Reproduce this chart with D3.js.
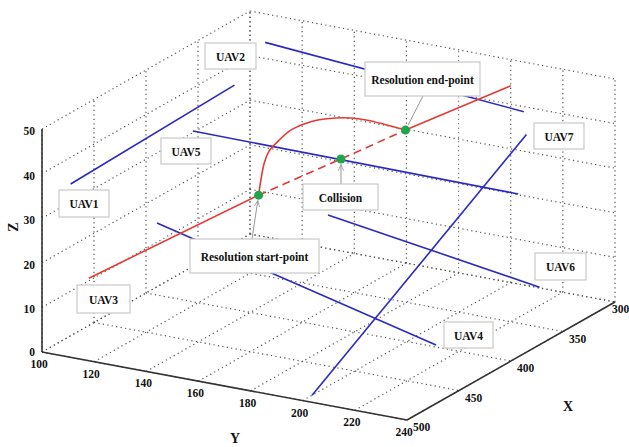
<!DOCTYPE html>
<html>
<head>
<meta charset="utf-8">
<script src="https://cdn.jsdelivr.net/npm/d3@7"></script>
<style>
  body { margin: 0; background: #fff; }
  text { font-family: "Liberation Serif", "DejaVu Serif", serif; }
</style>
</head>
<body>
<div id="chart"></div>
<script>
// axis ticks
const xTicks = [300, 350, 400, 450, 500];
const yTicks = [100, 120, 140, 160, 180, 200, 220, 240];
const zTicks = [0, 10, 20, 30, 40, 50];

// straight UAV tracks, points are [X, Y, Z]
const uavNames = ["UAV1", "UAV2", "UAV4", "UAV5", "UAV6", "UAV7"];
const uavStart = [[495, 109, 38], [308, 109, 45], [410.5, 108.4, 18], [370, 106, 33], [314, 135.5, 10], [491, 200, 0]];
const uavEnd   = [[330, 106, 38], [335, 219, 45], [443, 228.4, 8],    [373, 232, 33], [356, 233.4, 10], [335, 220, 40]];

// UAV3 planned path: start, resolution start, collision, resolution end, end
const uav3Path = [[480, 110, 15], [402, 144, 27], [370.5, 163, 33], [341, 176, 37], [305, 202, 45]];

// avoidance manoeuvre of UAV3
const resolutionCurve = [
  [402, 144, 27], [401, 144.6, 30.8], [399.6, 145.2, 34], [397.6, 146.3, 36.6],
  [394.7, 147.8, 38.1], [389.3, 150.7, 40.4], [383.1, 153.9, 41.5], [376.9, 157.2, 42],
  [369.9, 160.9, 41.9], [363.6, 164.1, 41.4], [357.4, 167.4, 40.5], [350, 171.3, 39],
  [344.6, 174.1, 37.8], [341, 176, 37]
];

const width = 629, height = 447;

// axes box in screen space (orthographic view)
const origin = [42, 352];          // Y=100, X=500, Z=0
const yVec = [365, 68];            // Y 100 -> 240
const xVec = [208, -118];          // X 500 -> 300
const zLen = 223;                  // Z 0 -> 50

const yS = d3.scaleLinear().domain([100, 240]).range([0, 1]);
const xS = d3.scaleLinear().domain([500, 300]).range([0, 1]);
const zS = d3.scaleLinear().domain([0, 50]).range([0, zLen]);

const proj = p => {
  const fy = yS(p[1]), fx = xS(p[0]);
  return [origin[0] + fy * yVec[0] + fx * xVec[0],
          origin[1] + fy * yVec[1] + fx * xVec[1] - zS(p[2])];
};

const svg = d3.select("#chart").append("svg")
    .attr("width", width)
    .attr("height", height);

svg.append("defs").append("marker")
    .attr("id", "arr")
    .attr("viewBox", "0 0 10 10")
    .attr("refX", 9).attr("refY", 5)
    .attr("markerWidth", 7).attr("markerHeight", 7)
    .attr("orient", "auto")
  .append("path")
    .attr("d", "M0,1 L9,5 L0,9")
    .attr("fill", "none")
    .attr("stroke", "#999")
    .attr("stroke-width", 1.2);

const line3 = d3.line().x(p => proj(p)[0]).y(p => proj(p)[1]);

// dotted grid on the three back planes
const grid = svg.append("g")
    .attr("fill", "none")
    .attr("stroke", "#555")
    .attr("stroke-width", 1.2)
    .attr("stroke-dasharray", "1.2,3.3");

const gridSegs = [];
yTicks.forEach(y => {
  gridSegs.push([[500, y, 0], [300, y, 0]]);   // floor
  gridSegs.push([[300, y, 0], [300, y, 50]]);  // back wall
});
xTicks.forEach(x => {
  gridSegs.push([[x, 100, 0], [x, 240, 0]]);   // floor
  gridSegs.push([[x, 100, 0], [x, 100, 50]]);  // left wall
});
zTicks.forEach(z => {
  gridSegs.push([[300, 100, z], [300, 240, z]]);
  gridSegs.push([[500, 100, z], [300, 100, z]]);
});
grid.selectAll("path").data(gridSegs).join("path").attr("d", line3);

// solid axes
const axes = svg.append("g").attr("stroke", "#333").attr("stroke-width", 1.6).attr("fill", "none");
axes.append("path").attr("d", line3([[500, 100, 0], [500, 240, 0]]));
axes.append("path").attr("d", line3([[500, 240, 0], [300, 240, 0]]));
axes.append("path").attr("d", line3([[500, 100, 0], [500, 100, 50]]));

// tick labels
const tickG = svg.append("g").attr("font-size", "11.5px").attr("font-weight", "bold").attr("fill", "#111");
tickG.selectAll(".yt").data(yTicks).join("text")
    .attr("x", d => proj([500, d, 0])[0] - 3)
    .attr("y", d => proj([500, d, 0])[1] + 12)
    .attr("text-anchor", "middle")
    .attr("dominant-baseline", "central")
    .text(d => d);
tickG.selectAll(".xt").data(xTicks).join("text")
    .attr("x", d => Math.min(proj([d, 240, 0])[0] + 6, 612))
    .attr("y", d => proj([d, 240, 0])[1] + 7)
    .attr("text-anchor", "start")
    .attr("dominant-baseline", "central")
    .text(d => d);
tickG.selectAll(".zt").data(zTicks).join("text")
    .attr("x", d => proj([500, 100, d])[0] - 7)
    .attr("y", d => proj([500, 100, d])[1] + (d === 0 ? 0 : 2))
    .attr("text-anchor", "end")
    .attr("dominant-baseline", "central")
    .text(d => d);

// axis titles
const titleG = svg.append("g").attr("font-size", "14px").attr("font-weight", "bold").attr("fill", "#111");
titleG.append("text").attr("x", 235).attr("y", 438).attr("text-anchor", "middle")
    .attr("dominant-baseline", "central").text("Y");
titleG.append("text").attr("x", 568).attr("y", 406).attr("text-anchor", "middle")
    .attr("dominant-baseline", "central").text("X");
titleG.append("text").attr("transform", "translate(13,227) rotate(-90)").attr("text-anchor", "middle")
    .attr("dominant-baseline", "central").text("Z");

// blue UAV tracks
svg.append("g").selectAll("path").data(uavNames).join("path")
    .attr("d", (d, i) => line3([uavStart[i], uavEnd[i]]))
    .attr("fill", "none")
    .attr("stroke", "#2a2ac0")
    .attr("stroke-width", 1.6);

// UAV3 path
const red = "#e53a33";
svg.append("path").attr("d", line3(uav3Path.slice(0, 2)))
    .attr("fill", "none").attr("stroke", red).attr("stroke-width", 1.6);
svg.append("path").attr("d", line3(uav3Path.slice(1, 4)))
    .attr("fill", "none").attr("stroke", red).attr("stroke-width", 1.6)
    .attr("stroke-dasharray", "8,5");
svg.append("path").attr("d", line3(uav3Path.slice(3, 5)))
    .attr("fill", "none").attr("stroke", red).attr("stroke-width", 1.6);
svg.append("path")
    .attr("d", d3.line().x(p => proj(p)[0]).y(p => proj(p)[1]).curve(d3.curveCatmullRom)(resolutionCurve))
    .attr("fill", "none").attr("stroke", red).attr("stroke-width", 1.6);

// annotation boxes (figure coordinates)
const boxes = [
  { t: "UAV1", x: 59, y: 190, w: 50, h: 27 },
  { t: "UAV2", x: 205, y: 43, w: 51, h: 26 },
  { t: "UAV3", x: 77, y: 285, w: 53, h: 28 },
  { t: "UAV4", x: 444, y: 322, w: 49, h: 26 },
  { t: "UAV5", x: 161, y: 138, w: 50, h: 26 },
  { t: "UAV6", x: 535, y: 253, w: 51, h: 27 },
  { t: "UAV7", x: 534, y: 123, w: 50, h: 26 },
  { t: "Resolution end-point", x: 365, y: 62, w: 115, h: 34, target: 3, from: [423, 96], arrow: false },
  { t: "Collision", x: 303, y: 184, w: 75, h: 26, target: 2, from: [341, 184], arrow: true },
  { t: "Resolution start-point", x: 190, y: 239, w: 129, h: 34, target: 1, from: [252, 239], arrow: true }
];

// leader lines
boxes.filter(b => b.target !== undefined).forEach(b => {
  const p = proj(uav3Path[b.target]);
  const dx = p[0] - b.from[0], dy = p[1] - b.from[1];
  const len = Math.hypot(dx, dy);
  const stop = 5.5;
  svg.append("line")
      .attr("x1", b.from[0]).attr("y1", b.from[1])
      .attr("x2", p[0] - dx / len * stop).attr("y2", p[1] - dy / len * stop)
      .attr("stroke", "#999").attr("stroke-width", 1)
      .attr("marker-end", b.arrow ? "url(#arr)" : null);
});

// green markers
svg.append("g").selectAll("circle").data(uav3Path.slice(1, 4)).join("circle")
    .attr("cx", d => proj(d)[0])
    .attr("cy", d => proj(d)[1])
    .attr("r", 4.5)
    .attr("fill", "#1fa64a");

const bg = svg.append("g").selectAll("g").data(boxes).join("g");
bg.append("rect")
    .attr("x", d => d.x).attr("y", d => d.y)
    .attr("width", d => d.w).attr("height", d => d.h)
    .attr("fill", "#fff")
    .attr("stroke", "#c8c8c8")
    .attr("stroke-width", 1.2);
bg.append("text")
    .attr("x", d => d.x + d.w / 2).attr("y", d => d.y + d.h / 2 + 0.5)
    .attr("text-anchor", "middle")
    .attr("dominant-baseline", "central")
    .attr("font-size", "11.5px")
    .attr("font-weight", "bold")
    .attr("fill", "#111")
    .text(d => d.t);
</script>
</body>
</html>
